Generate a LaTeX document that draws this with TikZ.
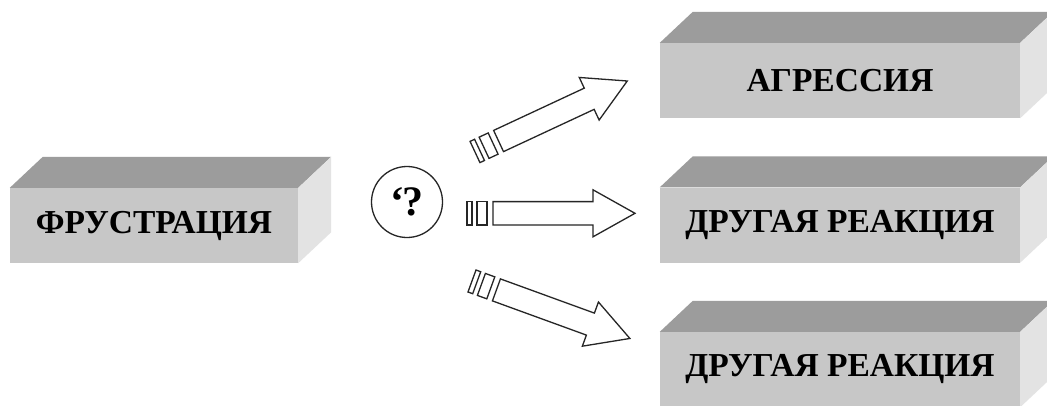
\documentclass[tikz,border=0pt]{standalone}
\usepackage{fontspec}
\setmainfont{Liberation Serif}
\usetikzlibrary{calc}
\definecolor{frontgray}{gray}{0.78}
\definecolor{topgray}{gray}{0.61}
\definecolor{sidegray}{gray}{0.89}

\tikzset{
  slab/.style={fill=frontgray, inner sep=0pt, minimum height=75pt,
               font=\fontsize{33.5}{36}\selectfont\bfseries},
  outline/.style={draw=black!85, line width=1.3pt, line join=miter}
}

\begin{document}
\begin{tikzpicture}[x=1pt,y=-1pt]
    \clip (0,0) rectangle (1047,405);
    \fill[white] (0,0) rectangle (1047,405);

    % front faces of the slabs
    \node[slab, minimum width=288pt] (frust) at (154,225.5) {ФРУСТРАЦИЯ};
    \node[slab, minimum width=360pt] (aggr)  at (840,80.5)  {АГРЕССИЯ};
    \node[slab, minimum width=360pt] (other) at (840,225)   {ДРУГАЯ РЕАКЦИЯ};
    \node[slab, minimum width=360pt] (rest)  at (840,369.5) {ДРУГАЯ РЕАКЦИЯ};

    % top and right faces
    \foreach \n in {frust,aggr,other,rest} {
        \fill[topgray] (\n.north west) -- ++(33,-31) -- ($(\n.north east)+(33,-31)$) -- (\n.north east) -- cycle;
        \fill[sidegray] (\n.north east) -- ++(33,-31) -- ($(\n.south east)+(33,-31)$) -- (\n.south east) -- cycle;
    }

    % the question in the middle
    \node[circle, outline, minimum size=71pt, inner sep=0pt,
          font=\fontsize{42}{46}\selectfont\bfseries] (quest) at (407,202) {‘\kern-2pt?};

    % hollow arrows with two tail strips
    \foreach \ang/\sx/\sy in {25/475/152, 0/467/213.3, -20/472/281} {
        \begin{scope}[shift={(\sx,\sy)}, rotate=\ang]
            \draw[outline, fill=white] (0,-11.7) rectangle (5,11.7);
            \draw[outline, fill=white] (10,-11.7) rectangle (20,11.7);
            \draw[outline, fill=white] (26,-11.7) -- (126,-11.7) -- (126,-23.5) -- (168,0)
                -- (126,23.5) -- (126,11.7) -- (26,11.7) -- cycle;
        \end{scope}
    }
\end{tikzpicture}
\end{document}
